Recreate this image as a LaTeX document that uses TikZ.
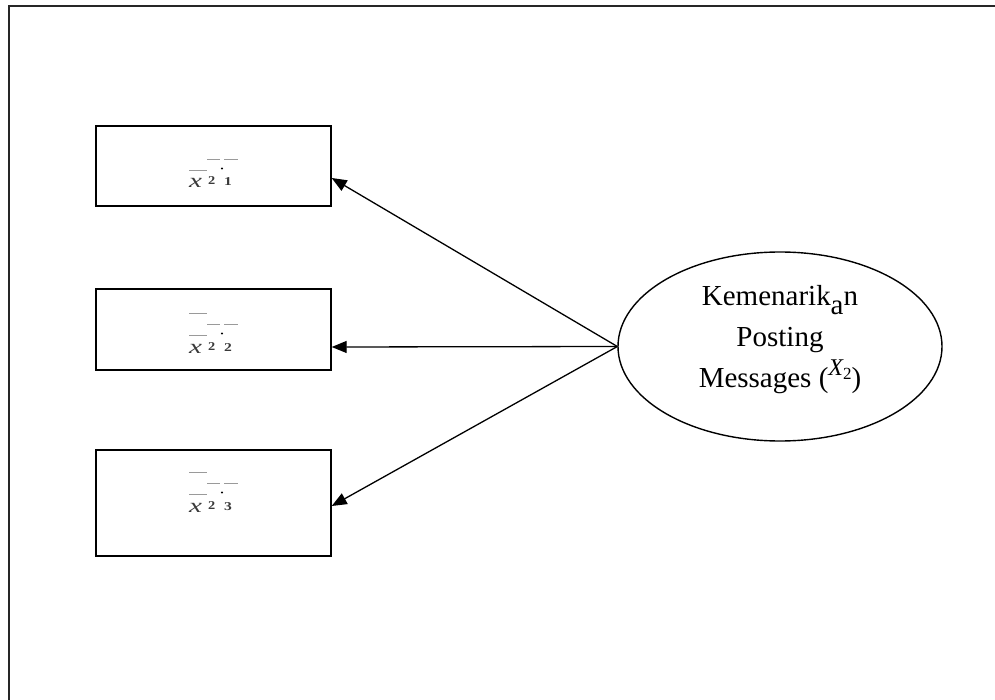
\documentclass[tikz,border=0pt]{standalone}
\usepackage{fontspec}
\usepackage{graphicx}
\setmainfont{Liberation Serif}
\usetikzlibrary{arrows.meta,shapes.geometric}

\definecolor{labelink}{HTML}{3A3A3A}
\definecolor{barink}{HTML}{9A9A9A}

\tikzset{
  indbox/.style={draw, line width=1.4pt, minimum width=235pt, inner sep=0pt},
  latent/.style={draw, ellipse, line width=1.4pt, minimum width=324pt, minimum height=189pt, inner sep=0pt},
  link/.style={line width=1.3pt, -{Triangle[length=15pt,width=12pt]}},
  frameline/.style={line width=2.2pt, draw=black!85},
  bar/.style={draw=barink, line width=1.8pt},
  glyph/.style={inner sep=0pt, text=labelink, anchor=base west},
}

% indicator label: #1 prefix, #2 baseline y, #3 index digit, #4 extra bar (1/0)
\newcommand{\indlabel}[4]{%
  \node[glyph, font=\fontsize{20}{20}\selectfont\itshape] (#1x) at (189,#2) {\scalebox{1.45}[1]{x}};
  \node[glyph, font=\fontsize{12}{12}\selectfont\bfseries] (#1s) at (208,#2-3) {\scalebox{1.2}[1]{2}};
  \node[glyph, font=\fontsize{12}{12}\selectfont\bfseries] (#1d) at (224,#2-2) {\scalebox{1.3}[1]{#3}};
  \draw[bar] (207,#2-28.5) -- (220,#2-28.5);
  \draw[bar] (224,#2-28.5) -- (238,#2-28.5);
  \draw[bar] (189,#2-17.5) -- (207,#2-17.5);
  \fill[black] (222,#2-19.5) circle (1.1pt);
  \ifnum#4=1 \draw[bar] (189,#2-39.5) -- (207,#2-39.5);\fi
}

\begin{document}
\begin{tikzpicture}[x=1pt, y=-1pt]
  \useasboundingbox (0,0) rectangle (995,700);

  % open frame along the left and top edges
  \draw[frameline] (9,700) -- (9,6) -- (995,6);

  % indicator boxes
  \node[indbox, minimum height=80pt]  (b1) at (213.5,166) {};
  \node[indbox, minimum height=81pt]  (b2) at (213.5,329.5) {};
  \node[indbox, minimum height=106pt] (b3) at (213.5,503) {};

  \indlabel{one}{188}{1}{0}
  \indlabel{two}{353}{2}{1}
  \indlabel{three}{512}{3}{1}

  % latent construct
  \node[latent] (ell) at (780,346.5) {};
  \node[align=center, inner sep=0pt, anchor=base,
        font=\fontsize{29}{41}\selectfont] (elltext) at (780,387)
    {Kemenarik\raisebox{-9pt}{a}n\\
     Posting\\
     Messages (\raisebox{12pt}{\fontsize{24}{24}\selectfont\itshape X\raisebox{-4pt}{\fontsize{17}{17}\selectfont\upshape 2}})};

  % loadings
  \draw[link] (ell.west) -- ([yshift=-12pt]b1.east);
  \draw[link] (ell.west) -- ([yshift=-17.5pt]b2.east);
  \draw[link] (ell.west) -- ([yshift=-3pt]b3.east);
\end{tikzpicture}
\end{document}
